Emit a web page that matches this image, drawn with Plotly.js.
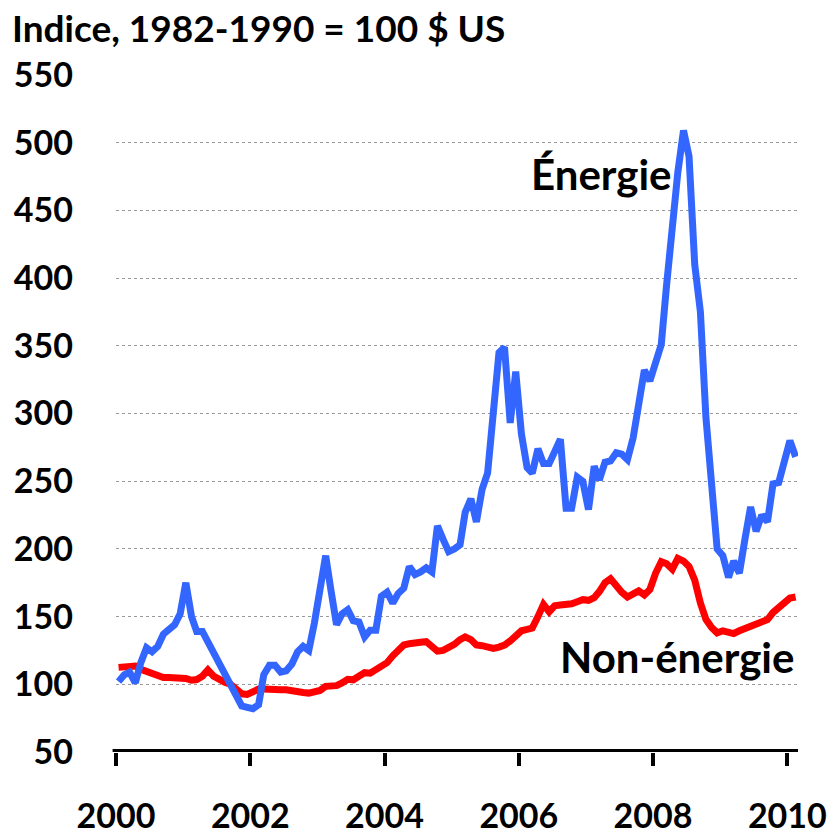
<!DOCTYPE html>
<html>
<head>
<meta charset="utf-8">
<script src="https://cdn.plot.ly/plotly-3.0.1.min.js"></script>
<style>
  html, body { margin: 0; padding: 0; background: #ffffff; }
  #chart { width: 837px; height: 835px; }
</style>
</head>
<body>
<div id="chart"></div>
<script>
// Monthly series, January 2000 to February 2010
var startYear = 2000;
var startMonth = 1;

var energie = [
  102, 107, 109, 101, 116, 127, 124, 128, 137, 141, 144, 152,
  175, 150, 139, 139, 131, 124, 116, 109, 98, 91, 84, 83,
  82, 85, 107, 114, 114, 109, 110, 115, 124, 128, 125, 145,
  168, 195, 170, 144, 152, 155, 147, 146, 135, 140, 140, 165,
  168, 160, 167, 171, 187, 181, 183, 186, 183, 217, 207, 198,
  200, 203, 227, 237, 220, 244, 256, 308, 345, 349, 293, 331,
  285, 260, 256, 274, 263, 263, 272, 281, 230, 230, 253, 250,
  229, 261, 251, 264, 265, 271, 270, 266, 282, 305, 332, 324,
  340, 351, 395, 440, 478, 509, 490, 410, 375, 297, 248, 200,
  195, 179, 191, 182, 207, 231, 213, 225, 220, 248, 249, 265,
  280, 268
];

var nonEnergie = [
  112.5, 113, 113.5, 113.5, 111, 109.5, 108, 106, 105, 105, 105, 104.5,
  104.3, 103, 103.5, 106, 110.6, 106, 103.5, 101.5, 100, 96, 93, 92.5,
  94.5, 96.5, 96.5, 96, 96, 96, 96, 95, 94.5, 94, 93.5, 94,
  95.5, 98.5, 98.7, 99, 101, 103.7, 103.3, 105.5, 108.6, 108.2, 110.5, 113,
  116, 121, 125, 129, 130, 131, 131, 131.5, 128.5, 124.5, 125, 127,
  129.5, 133, 135, 133, 129, 128.5, 127, 126.5, 127.5, 129, 132, 136,
  139.5, 140.5, 141.5, 150, 159, 153.6, 158, 158.6, 158.6, 159.5, 161, 162.5,
  162, 164, 168.5, 175, 178, 172, 168, 164.5, 167.5, 169, 166, 170,
  182, 190.5, 189, 185, 193, 191, 187, 177, 160, 148, 142, 138,
  139.5, 139, 137.5, 139.5, 141, 143.5, 145, 145.5, 147.8, 153, 156.5, 160,
  163.7, 164.5
];

var tickYears = [2000, 2002, 2004, 2006, 2008, 2010];
var yTicks = [50, 100, 150, 200, 250, 300, 350, 400, 450, 500, 550];

var titleText = "Indice, 1982-1990 = 100 $ US";
var labelEnergie = "Énergie";
var labelNonEnergie = "Non-énergie";

function monthDate(i) {
  var total = (startMonth - 1) + i;
  var y = startYear + Math.floor(total / 12);
  var m = (total % 12) + 1;
  return y + "-" + (m < 10 ? "0" + m : m) + "-15";
}
var dates = energie.map(function (_, i) { return monthDate(i); });

var FONT = "Lato, 'Open Sans', sans-serif";

var traces = [
  {
    x: dates, y: nonEnergie, type: "scatter", mode: "lines",
    line: { color: "#ff0000", width: 7 }, hoverinfo: "skip"
  },
  {
    x: dates, y: energie, type: "scatter", mode: "lines",
    line: { color: "#3366ff", width: 7 }, hoverinfo: "skip"
  }
];

var layout = {
  width: 837, height: 835,
  margin: { l: 116, r: 39, t: 75, b: 83 },
  paper_bgcolor: "#ffffff", plot_bgcolor: "#ffffff",
  showlegend: false,
  font: { family: FONT, color: "#000000" },
  xaxis: {
    type: "date",
    range: ["2000-01-01", "2010-02-28"],
    tickmode: "array",
    tickvals: tickYears.map(function (y) { return y + "-01-01"; }),
    ticktext: tickYears.map(String),
    ticks: "outside", ticklen: 13, tickwidth: 4, tickcolor: "#000000",
    ticklabelstandoff: 21,
    tickfont: { family: FONT, size: 34, color: "#000000", weight: "bold" },
    showgrid: false, zeroline: false, showline: false
  },
  yaxis: {
    range: [50, 550],
    tickmode: "array",
    tickvals: yTicks,
    ticktext: yTicks.map(String),
    ticks: "", ticklabelstandoff: 42,
    tickfont: { family: FONT, size: 34, color: "#000000", weight: "bold" },
    showgrid: true, gridcolor: "#9a9a9a", gridwidth: 1, griddash: "dot",
    zeroline: false, showline: false
  },
  shapes: [
    {
      type: "line", xref: "paper", yref: "y",
      x0: -0.005, x1: 1.0, y0: 50, y1: 50,
      line: { color: "#000000", width: 6 }, layer: "above"
    }
  ],
  annotations: [
    {
      text: titleText, xref: "paper", yref: "paper",
      x: -0.1554, y: 1.0709, xanchor: "left", yanchor: "middle",
      showarrow: false,
      font: { family: FONT, size: 37, color: "#000000", weight: "bold" }
    },
    {
      text: labelEnergie, xref: "paper", yref: "paper",
      x: 0.7126, y: 0.8538, xanchor: "center", yanchor: "middle",
      showarrow: false,
      font: { family: FONT, size: 42, color: "#000000", weight: "bold" }
    },
    {
      text: labelNonEnergie, xref: "paper", yref: "paper",
      x: 0.8221, y: 0.1408, xanchor: "center", yanchor: "middle",
      showarrow: false,
      font: { family: FONT, size: 42, color: "#000000", weight: "bold" }
    }
  ]
};

Plotly.newPlot("chart", traces, layout, { displayModeBar: false, staticPlot: true });
</script>
</body>
</html>
